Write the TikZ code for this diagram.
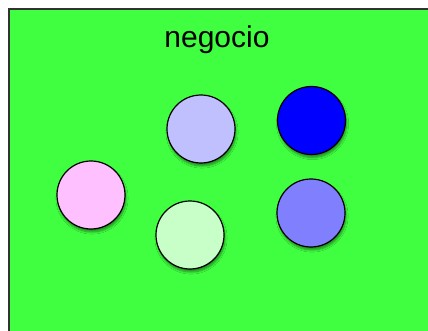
\documentclass[tikz,border=0pt]{standalone}
\usepackage{fontspec}
\setmainfont{Liberation Sans}
\usetikzlibrary{shadows.blur}
\definecolor{field}{HTML}{40FF40}
\definecolor{pinkc}{HTML}{FFC0FF}
\definecolor{lavc}{HTML}{C0C0FF}
\definecolor{mintc}{HTML}{C8FFC8}
\definecolor{bluec}{HTML}{0000FF}
\definecolor{midbluec}{HTML}{8080FF}
\begin{document}
\begin{tikzpicture}[x=1pt,y=-1pt,
  ball/.style={circle, draw=black, line width=1.2pt, minimum size=68pt, inner sep=0pt,
    blur shadow={shadow xshift=1pt, shadow yshift=-3pt, shadow blur steps=6, shadow opacity=45}},
  frame/.style={draw=black!80, line width=2pt, fill=field}]
\useasboundingbox (0,0) rectangle (428,331);
\fill[white] (0,0) rectangle (428,331);
\node[frame, minimum width=440pt, minimum height=340pt, anchor=north west, inner sep=0pt] (domain) at (8,8) {};
\node[font=\fontsize{30}{34}\selectfont, inner sep=0pt] (title) at (217,40) {negocio};
\node[ball, fill=pinkc] (p1) at (91,195) {};
\node[ball, fill=lavc] (p2) at (201,129) {};
\node[ball, fill=bluec] (p3) at (311.5,120.5) {};
\node[ball, fill=mintc] (p4) at (190,235) {};
\node[ball, fill=midbluec] (p5) at (311,213) {};
\end{tikzpicture}
\end{document}
